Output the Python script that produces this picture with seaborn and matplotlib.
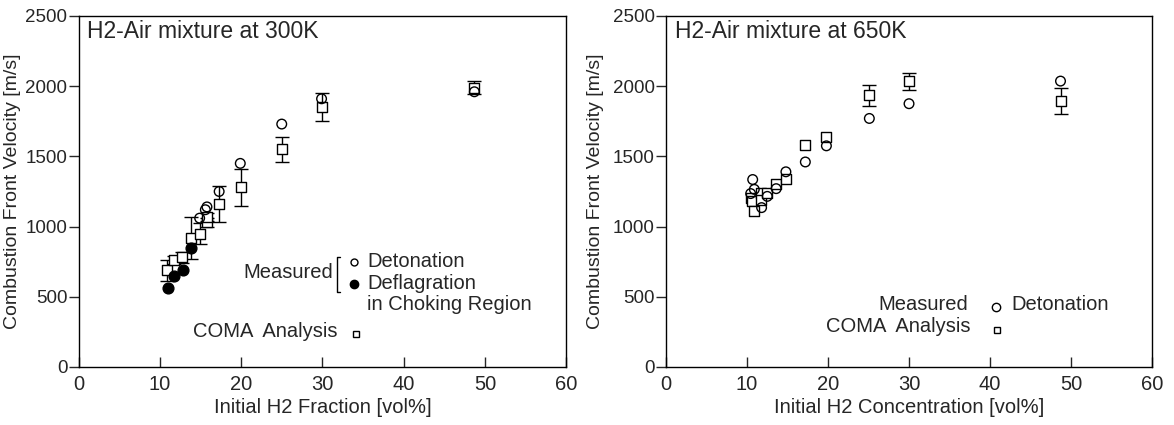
import numpy as np
import pandas as pd
import seaborn as sns
import matplotlib.pyplot as plt

# ---- 300K data ----
det300_x = [14.9, 15.6, 15.8, 17.3, 19.9, 25.0, 29.9, 48.7]
det300_y = [1060, 1120, 1140, 1250, 1450, 1730, 1910, 1960]

defl300_x = [11.0, 11.8, 12.8, 13.8]
defl300_y = [560, 650, 690, 850]

coma300_x = [10.9, 11.8, 12.7, 13.8, 14.9, 15.8, 15.8, 17.3, 20.0, 25.0, 30.0, 48.7]
coma300_y = [690, 760, 780, 920, 950, 1030, 1070, 1160, 1280, 1550, 1850, 1990]
coma300_err = [75, 30, 40, 150, 75, 30, 30, 130, 130, 90, 100, 45]

# ---- 650K data ----
det650_x = [10.45, 10.7, 10.9, 11.8, 12.5, 13.6, 14.8, 17.2, 19.8, 25.1, 30.0, 48.7]
det650_y = [1235, 1335, 1265, 1135, 1215, 1270, 1390, 1460, 1575, 1770, 1875, 2036]

coma650_x = [10.45, 10.65, 10.9, 11.7, 11.7, 12.5, 13.6, 14.8, 17.2, 19.8, 25.1, 30.0, 48.7]
coma650_y = [1205, 1180, 1110, 1240, 1190, 1240, 1300, 1340, 1580, 1640, 1935, 2036, 1895]
coma650_err = [0, 0, 0, 0, 0, 0, 0, 0, 0, 0, 75, 60, 90]

FONT_NARROW = ['Liberation Sans Narrow', 'Liberation Sans', 'DejaVu Sans']
FONT_TITLE = ['Liberation Sans', 'DejaVu Sans']

sns.set_style("white")
plt.rcParams['font.family'] = FONT_NARROW

fig = plt.figure(figsize=(11.74, 4.25), dpi=100)
ax1 = fig.add_axes([0.0669, 0.1365, 0.4154, 0.826])
ax2 = fig.add_axes([0.5673, 0.1365, 0.414, 0.826])


def style_axes(ax, xlabel, title, ylab_x):
	ax.set_xlim(0, 60)
	ax.set_ylim(0, 2500)
	ax.set_xticks(np.arange(0, 61, 10))
	ax.set_yticks(np.arange(0, 2501, 500))
	ax.tick_params(axis='x', direction='in', length=7, width=1, labelsize=14.5, pad=6, bottom=True)
	ax.tick_params(axis='y', direction='out', length=7, width=1, labelsize=13.5, pad=1, left=True)
	for s in ax.spines.values():
		s.set_color('black')
		s.set_linewidth(1)
	ax.set_xlabel(xlabel, fontsize=14.5, labelpad=3)
	ax.set_ylabel("Combustion Front Velocity [m/s]", fontsize=14)
	ax.yaxis.set_label_coords(ylab_x, 0.5)
	ax.text(0.018, 0.988, title, transform=ax.transAxes, ha='left', va='top',
		fontsize=16.5, family=FONT_TITLE)


def draw_coma(ax, xs, ys, errs):
	errs = np.array(errs, dtype=float)
	mask = errs > 0
	ax.errorbar(np.array(xs)[mask], np.array(ys)[mask], yerr=errs[mask], fmt='none',
		ecolor='black', elinewidth=1, capsize=5, capthick=1, zorder=2)
	sns.scatterplot(x=xs, y=ys, ax=ax, marker='s', s=42, facecolor='white',
		edgecolor='black', linewidth=1, zorder=3, legend=False)


# ---- left panel ----
draw_coma(ax1, coma300_x, coma300_y, coma300_err)
sns.scatterplot(x=det300_x, y=det300_y, ax=ax1, marker='o', s=48, facecolor='none',
	edgecolor='black', linewidth=1, zorder=4, legend=False)
sns.scatterplot(x=defl300_x, y=defl300_y, ax=ax1, marker='o', s=60, color='black',
	edgecolor='black', linewidth=1, zorder=4, legend=False)
style_axes(ax1, "Initial H2 Fraction [vol%]", "H2-Air mixture at 300K", -0.117)

t = ax1.transAxes
ax1.text(0.522, 0.268, "Measured", transform=t, ha='right', va='center', fontsize=14.5)
ax1.plot([0.537, 0.531, 0.531, 0.537], [0.312, 0.312, 0.213, 0.213], transform=t,
	color='black', lw=1, clip_on=False)
ax1.plot([0.565], [0.299], transform=t, marker='o', ms=5, mfc='white', mec='black', mew=1)
ax1.plot([0.565], [0.236], transform=t, marker='o', ms=6, mfc='black', mec='black')
ax1.text(0.592, 0.300, "Detonation", transform=t, ha='left', va='center', fontsize=14.5)
ax1.text(0.592, 0.237, "Deflagration", transform=t, ha='left', va='center', fontsize=14.5)
ax1.text(0.592, 0.178, "in Choking Region", transform=t, ha='left', va='center', fontsize=14.5)
ax1.text(0.530, 0.100, "COMA  Analysis", transform=t, ha='right', va='center', fontsize=14.5)
ax1.plot([0.569], [0.094], transform=t, marker='s', ms=5, mfc='white', mec='black', mew=1)

# ---- right panel ----
draw_coma(ax2, coma650_x, coma650_y, coma650_err)
sns.scatterplot(x=det650_x, y=det650_y, ax=ax2, marker='o', s=48, facecolor='none',
	edgecolor='black', linewidth=1, zorder=4, legend=False)
style_axes(ax2, "Initial H2 Concentration [vol%]", "H2-Air mixture at 650K", -0.127)

t = ax2.transAxes
ax2.text(0.621, 0.177, "Measured", transform=t, ha='right', va='center', fontsize=14.5)
ax2.plot([0.679], [0.171], transform=t, marker='o', ms=6, mfc='white', mec='black', mew=1)
ax2.text(0.710, 0.177, "Detonation", transform=t, ha='left', va='center', fontsize=14.5)
ax2.text(0.626, 0.114, "COMA  Analysis", transform=t, ha='right', va='center', fontsize=14.5)
ax2.plot([0.681], [0.105], transform=t, marker='s', ms=5, mfc='white', mec='black', mew=1)

fig.savefig("out.png", dpi=100)
